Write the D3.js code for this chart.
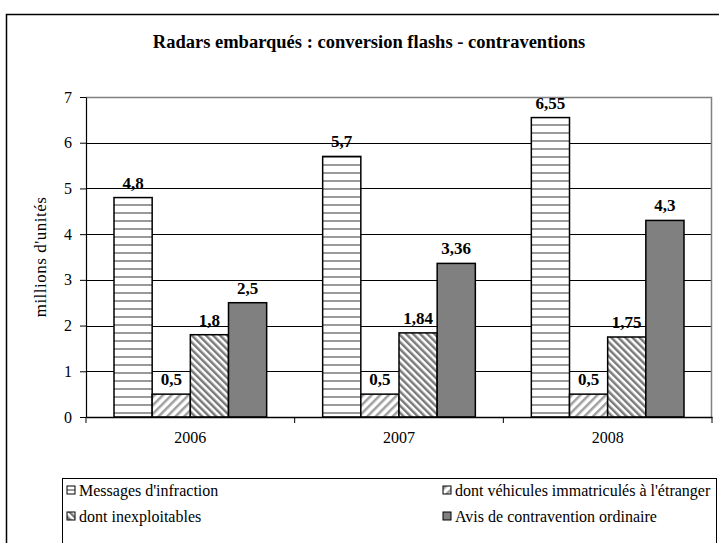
<!DOCTYPE html>
<html>
<head>
<meta charset="utf-8">
<script src="https://cdn.jsdelivr.net/npm/d3@7"></script>
<style>
  body { margin: 0; background: #fff; }
  svg text { font-family: "Liberation Serif", "Times New Roman", serif; }
</style>
</head>
<body>
<div id="chart"></div>
<script>
// data
var years = ["2006", "2007", "2008"];
var seriesNames = ["Messages d'infraction", "dont véhicules immatriculés à l'étranger",
                   "dont inexploitables", "Avis de contravention ordinaire"];
var messages = [4.8, 5.7, 6.55];
var etranger = [0.5, 0.5, 0.5];
var inexploitables = [1.8, 1.84, 1.75];
var avis = [2.5, 3.36, 4.3];
var yTicks = [0, 1, 2, 3, 4, 5, 6, 7];

var seriesValues = [messages, etranger, inexploitables, avis];
var fills = ["url(#pHoriz)", "url(#pFwd)", "url(#pBack)", "#808080"];

var W = 719, H = 543;
var margin = {top: 97, left: 86, right: 7, bottom: 126};
var width = W - margin.left - margin.right,
    height = H - margin.top - margin.bottom;

var svg = d3.select("#chart").append("svg")
    .attr("width", W)
    .attr("height", H);

// patterns
var defs = svg.append("defs");
var ph = defs.append("pattern").attr("id", "pHoriz")
    .attr("patternUnits", "userSpaceOnUse").attr("width", 8).attr("height", 8);
ph.append("rect").attr("width", 8).attr("height", 8).attr("fill", "#fff");
ph.append("rect").attr("y", 3).attr("width", 8).attr("height", 2).attr("fill", "#9a9a9a");

var pf = defs.append("pattern").attr("id", "pFwd")
    .attr("patternUnits", "userSpaceOnUse").attr("width", 6).attr("height", 6)
    .attr("patternTransform", "rotate(45)");
pf.append("rect").attr("width", 6).attr("height", 6).attr("fill", "#fff");
pf.append("rect").attr("width", 2.5).attr("height", 6).attr("fill", "#a0a0a0");

var pb = defs.append("pattern").attr("id", "pBack")
    .attr("patternUnits", "userSpaceOnUse").attr("width", 5).attr("height", 5)
    .attr("patternTransform", "rotate(-45)");
pb.append("rect").attr("width", 5).attr("height", 5).attr("fill", "#fff");
pb.append("rect").attr("width", 2.5).attr("height", 5).attr("fill", "#7a7a7a");

// outer frame
svg.append("rect")
    .attr("x", 6.5).attr("y", 14.5)
    .attr("width", W).attr("height", H)
    .attr("fill", "none").attr("stroke", "#000").attr("stroke-width", 1.5);

svg.append("text")
    .attr("x", 369).attr("y", 48)
    .attr("text-anchor", "middle")
    .style("font-size", "18.5px").style("font-weight", "bold")
    .text("Radars embarqués : conversion flashs - contraventions");

var g = svg.append("g")
    .attr("transform", "translate(" + margin.left + "," + margin.top + ")");

var x0 = d3.scaleBand().domain(years).range([0, width]).paddingInner(0).paddingOuter(0);
var x1 = d3.scaleBand().domain(d3.range(4)).range([28, x0.bandwidth() - 28]);
var y = d3.scaleLinear().domain([0, 7]).range([height, 0]);

// gridlines
g.selectAll(".grid").data(yTicks.slice(1, 7)).enter().append("line")
    .attr("x1", 0).attr("x2", width)
    .attr("y1", d => Math.round(y(d)) + 0.5).attr("y2", d => Math.round(y(d)) + 0.5)
    .attr("stroke", "#000").attr("stroke-width", 1);

// plot border top/right
g.append("path")
    .attr("d", "M0," + (Math.round(y(7)) + 0.5) + "H" + (width - 0.5) + "V" + height)
    .attr("fill", "none").attr("stroke", "#808080").attr("stroke-width", 1.5);

// bars
var groups = g.selectAll(".year").data(years).enter().append("g")
    .attr("transform", d => "translate(" + x0(d) + ",0)");

groups.each(function(yr, i) {
    var grp = d3.select(this);
    seriesValues.forEach(function(vals, s) {
        grp.append("rect")
            .attr("x", x1(s))
            .attr("width", x1.bandwidth())
            .attr("y", y(vals[i]))
            .attr("height", height - y(vals[i]))
            .attr("fill", fills[s])
            .attr("stroke", "#000").attr("stroke-width", 1.5);
        grp.append("text")
            .attr("x", x1(s) + x1.bandwidth() / 2)
            .attr("y", y(vals[i]) - 9)
            .attr("text-anchor", "middle")
            .style("font-size", "17px").style("font-weight", "bold")
            .text(String(vals[i]).replace(".", ","));
    });
});

// axes
var yAxis = g.append("g")
    .call(d3.axisLeft(y).tickValues(yTicks).tickFormat(d3.format("d"))
        .tickSize(6).tickPadding(8).tickSizeOuter(0));
yAxis.select(".domain").attr("stroke", "#000").attr("stroke-width", 1.2);
yAxis.selectAll("text").style("font-size", "16px").style("font-family", "Liberation Serif");

var xAxis = g.append("g")
    .attr("transform", "translate(0," + height + ")")
    .call(d3.axisBottom(x0).tickSize(0).tickPadding(15));
xAxis.select(".domain").attr("stroke", "#000").attr("stroke-width", 1.5);
xAxis.selectAll("text").style("font-size", "16px").style("font-family", "Liberation Serif");

// category separator ticks
g.selectAll(".sep").data(d3.range(4)).enter().append("line")
    .attr("x1", d => d * x0.bandwidth()).attr("x2", d => d * x0.bandwidth())
    .attr("y1", height).attr("y2", height + 6)
    .attr("stroke", "#000");

svg.append("text")
    .attr("transform", "translate(46," + (margin.top + height / 2) + ") rotate(-90)")
    .attr("text-anchor", "middle")
    .style("font-size", "17px")
    .style("letter-spacing", "0.5px")
    .text("millions d'unités");

// legend
var lg = svg.append("g").attr("transform", "translate(62,478)");
lg.append("rect")
    .attr("x", 0.5).attr("y", 0.5).attr("width", 654).attr("height", 80)
    .attr("fill", "#fff").attr("stroke", "#000");

var legPos = [[5, 8], [381, 8], [5, 34], [381, 34]];
seriesNames.forEach(function(name, s) {
    var p = legPos[s];
    lg.append("rect")
        .attr("x", p[0]).attr("y", p[1])
        .attr("width", 8).attr("height", 8)
        .attr("fill", fills[s]).attr("stroke", "#000");
    lg.append("text")
        .attr("x", p[0] + 12).attr("y", p[1] + 10)
        .style("font-size", "16px")
        .text(name);
});
</script>
</body>
</html>
